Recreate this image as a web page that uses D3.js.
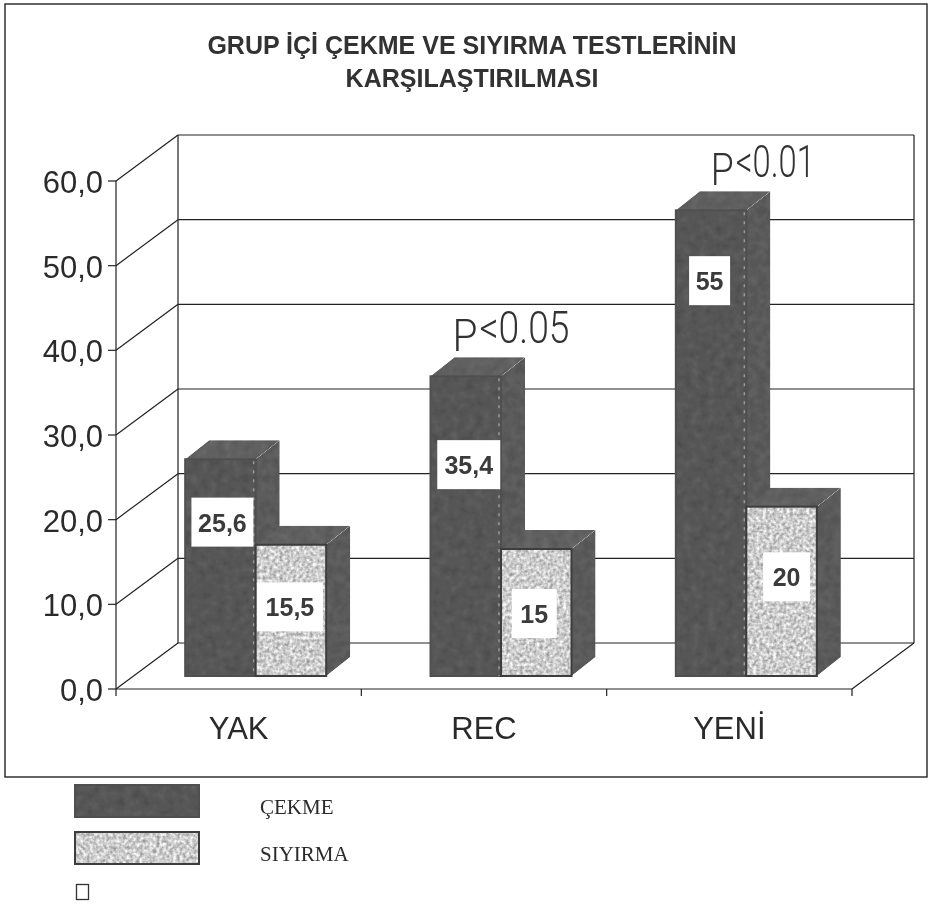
<!DOCTYPE html>
<html>
<head>
<meta charset="utf-8">
<script src="https://cdn.jsdelivr.net/npm/d3@7"></script>
<style>
  body { margin: 0; background: #fff; }
  text { font-family: "Liberation Sans", Arial, sans-serif; fill: #2a2a2a; }
  .grid-line { stroke: #222; stroke-width: 1.2; fill: none; }
  .value-label { font-weight: bold; font-size: 25px; text-anchor: middle; dominant-baseline: central; fill: #3a3a3a; }
  .tick-label { font-size: 31px; }
  .legend-label { font-family: "Liberation Serif", "Times New Roman", serif; font-size: 21px; }
  .p-label { font-family: Roboto, "Liberation Sans", sans-serif; font-weight: 300; font-size: 44px; fill: #333; }
</style>
</head>
<body>
<div id="chart-area"></div>
<script>
// data
const titleLines = ["GRUP İÇİ ÇEKME VE SIYIRMA TESTLERİNİN", "KARŞILAŞTIRILMASI"]
const categories = ["YAK", "REC", "YENİ"]
const seriesNames = ["ÇEKME", "SIYIRMA"]
const cekmeValues = [25.6, 35.4, 55]
const siyirmaValues = [15.5, 15, 20]
const valueLabels = [["25,6", "35,4", "55"], ["15,5", "15", "20"]]
const yTicks = [0, 10, 20, 30, 40, 50, 60]
const pLabels = ["", "<0.05", "<0.01"]

function drawChart() {
  const dimensions = {
    width: 928, height: 906,
    left: 116, right: 852, bottom: 689, top: 181,
    depthX: 62, depthY: 46,
    barShiftX: 17, barShiftY: 13,
    barDepthX: 24, barDepthY: 19,
  }

  const wrapper = d3.select("#chart-area").append("svg")
    .attr("width", dimensions.width)
    .attr("height", dimensions.height)
    .style("display", "block")

  // scan-like grain
  const defs = wrapper.append("defs")
  const grain = (id, freq, amp) => {
    const f = defs.append("filter").attr("id", id)
      .attr("color-interpolation-filters", "sRGB")
      .attr("x", 0).attr("y", 0).attr("width", 1).attr("height", 1)
    f.append("feTurbulence").attr("type", "fractalNoise").attr("baseFrequency", freq)
      .attr("numOctaves", 2).attr("seed", 4).attr("result", "n")
    f.append("feColorMatrix").attr("in", "n").attr("type", "matrix")
      .attr("values", "0 0 0 1 0  0 0 0 1 0  0 0 0 1 0  0 0 0 0 1").attr("result", "g")
    f.append("feComposite").attr("in", "SourceGraphic").attr("in2", "g")
      .attr("operator", "arithmetic")
      .attr("k1", 0).attr("k2", 1).attr("k3", amp).attr("k4", -amp / 2)
      .attr("result", "c")
    f.append("feComposite").attr("in", "c").attr("in2", "SourceAlpha").attr("operator", "in")
  }
  grain("grain-dark", 0.12, 0.1)
  grain("grain-light", 0.3, 0.65)
  const soft = defs.append("filter").attr("id", "soft")
  soft.append("feGaussianBlur").attr("stdDeviation", 0.55)

  const chart = wrapper.append("g").attr("filter", "url(#soft)")

  // scales
  const y = d3.scaleLinear().domain([0, 60]).range([dimensions.bottom, dimensions.top])
  const x = d3.scaleBand().domain(categories)
    .range([dimensions.left, dimensions.right])
  const xSeries = d3.scalePoint().domain([0, 1, 2]).range([0, 141])

  // frame
  chart.append("rect")
    .attr("x", 5).attr("y", 4).attr("width", 922).attr("height", 773)
    .attr("fill", "none").attr("stroke", "#222").attr("stroke-width", 1.4)

  // title
  chart.selectAll(".title").data(titleLines).join("text")
    .attr("class", "title")
    .attr("x", 472)
    .attr("y", (d, i) => 54 + i * 33)
    .attr("text-anchor", "middle")
    .attr("font-size", 25)
    .attr("font-weight", "bold")
    .style("fill", "#333")
    .text(d => d)

  // walls and gridlines
  const dx = dimensions.depthX, dy = dimensions.depthY
  const grid = chart.append("g")
  yTicks.forEach(t => {
    grid.append("line").attr("class", "grid-line")
      .attr("x1", dimensions.left).attr("y1", y(t))
      .attr("x2", dimensions.left + dx).attr("y2", y(t) - dy)
    grid.append("line").attr("class", "grid-line")
      .attr("x1", dimensions.left + dx).attr("y1", y(t) - dy)
      .attr("x2", dimensions.right + dx).attr("y2", y(t) - dy)
    grid.append("line").attr("class", "grid-line")
      .attr("x1", dimensions.left - 8).attr("y1", y(t))
      .attr("x2", dimensions.left).attr("y2", y(t))
    grid.append("text").attr("class", "tick-label")
      .attr("x", dimensions.left - 13)
      .attr("y", y(t) + 12)
      .attr("text-anchor", "end")
      .text(d3.format(".1f")(t).replace(".", ","))
  })
  const verticals = [
    [dimensions.left, y(60), dimensions.left, y(0)],
    [dimensions.left + dx, y(60) - dy, dimensions.left + dx, y(0) - dy],
    [dimensions.right + dx, y(60) - dy, dimensions.right + dx, y(0) - dy],
    [dimensions.right, y(0), dimensions.right + dx, y(0) - dy],
    [dimensions.left, y(0), dimensions.right, y(0)],
  ]
  verticals.forEach(v => {
    grid.append("line").attr("class", "grid-line")
      .attr("x1", v[0]).attr("y1", v[1]).attr("x2", v[2]).attr("y2", v[3])
  })
  const xEdges = [...categories.map(c => x(c)), dimensions.right]
  xEdges.forEach(e => {
    grid.append("line").attr("class", "grid-line")
      .attr("x1", e).attr("y1", y(0)).attr("x2", e).attr("y2", y(0) + 7)
  })

  // category labels
  chart.selectAll(".cat").data(categories).join("text")
    .attr("class", "tick-label cat")
    .attr("x", d => x(d) + x.bandwidth() / 2)
    .attr("y", 739)
    .attr("text-anchor", "middle")
    .text(d => d)

  // bars
  const base = y(0) - dimensions.barShiftY
  const unit = y(0) - y(1)
  const barTop = v => base - v * unit
  const seriesValues = [cekmeValues, siyirmaValues]
  const seriesStyle = [
    { front: "#565656", filter: "url(#grain-dark)", stroke: "#505050" },
    { front: "#cdcdcd", filter: "url(#grain-light)", stroke: "#3c3c3c" },
  ]
  const bdx = dimensions.barDepthX, bdy = dimensions.barDepthY
  const poly = pts => pts.map(p => p.join(",")).join(" ")

  // label box offsets from bar centre: dx, dy, width
  const labelBoxes = [
    [[2, -45, 62], [3, -61, 63], [-1.5, -162, 41]],
    [[-1, -3, 66], [-2, 1.5, 45], [5, -14, 47]],
  ]
  // where the P labels start, right of the bar's left edge, and drawn widths of the two parts
  const pLayout = [null, [22, 27, 90], [35, 25, 79]]

  const bars = chart.append("g")
  categories.forEach((cat, i) => {
    const x0 = x(cat) + x.bandwidth() / 2 + dimensions.barShiftX - xSeries(1)
    seriesNames.forEach((name, s) => {
      const v = seriesValues[s][i]
      const left = x0 + xSeries(s)
      const right = x0 + xSeries(s + 1)
      const top = barTop(v)
      const g = bars.append("g")

      // right face
      g.append("polygon")
        .attr("points", poly([[right, top], [right + bdx, top - bdy], [right + bdx, base - bdy], [right, base]]))
        .attr("fill", "#5a5a5a")
        .attr("filter", "url(#grain-dark)")
      // top face
      g.append("polygon")
        .attr("points", poly([[left, top], [left + bdx, top - bdy], [right + bdx, top - bdy], [right, top]]))
        .attr("fill", "#606060")
        .attr("filter", "url(#grain-dark)")
      // front face
      g.append("rect")
        .attr("x", left).attr("y", top)
        .attr("width", right - left).attr("height", base - top)
        .attr("fill", seriesStyle[s].front)
        .attr("filter", seriesStyle[s].filter)
      g.append("rect")
        .attr("x", left).attr("y", top)
        .attr("width", right - left).attr("height", base - top)
        .attr("fill", "none")
        .attr("stroke", seriesStyle[s].stroke)
        .attr("stroke-width", 2)
      // faint dotted seam on the dark bars
      if (s === 0) {
        g.append("line")
          .attr("x1", right - 2).attr("y1", top + 2)
          .attr("x2", right - 2).attr("y2", base)
          .attr("stroke", "#9a9a9a")
          .attr("stroke-width", 1.5)
          .attr("stroke-dasharray", "3 6")
      }
    })
  })

  // value labels
  categories.forEach((cat, i) => {
    const x0 = x(cat) + x.bandwidth() / 2 + dimensions.barShiftX - xSeries(1)
    seriesNames.forEach((name, s) => {
      const v = seriesValues[s][i]
      const box = labelBoxes[s][i]
      const cx = x0 + (xSeries(s) + xSeries(s + 1)) / 2 + box[0]
      const cy = (barTop(v) + base) / 2 + box[1]
      chart.append("rect")
        .attr("x", cx - box[2] / 2).attr("y", cy - 25)
        .attr("width", box[2]).attr("height", 49)
        .attr("fill", "#fff")
      chart.append("text").attr("class", "value-label")
        .attr("x", cx).attr("y", cy)
        .text(valueLabels[s][i])
    })
  })

  // p annotations, the P sits lower than the rest
  categories.forEach((cat, i) => {
    if (!pLabels[i]) return
    const left = x(cat) + x.bandwidth() / 2 + dimensions.barShiftX - xSeries(1)
    const ty = barTop(cekmeValues[i]) - bdy - 14
    const [startX, pWidth, restWidth] = pLayout[i]
    chart.append("text").attr("class", "p-label")
      .attr("x", left + startX)
      .attr("y", ty + 8)
      .attr("textLength", pWidth - 2)
      .attr("lengthAdjust", "spacingAndGlyphs")
      .text("P")
    chart.append("text").attr("class", "p-label")
      .attr("x", left + startX + pWidth)
      .attr("y", ty)
      .attr("textLength", restWidth)
      .attr("lengthAdjust", "spacingAndGlyphs")
      .text(pLabels[i])
  })

  // legend
  const legend = chart.append("g")
  seriesNames.forEach((name, s) => {
    const ly = 785 + s * 47
    legend.append("rect")
      .attr("x", 75).attr("y", ly).attr("width", 124).attr("height", 32)
      .attr("fill", seriesStyle[s].front)
      .attr("filter", seriesStyle[s].filter)
    legend.append("rect")
      .attr("x", 75).attr("y", ly).attr("width", 124).attr("height", 32)
      .attr("fill", "none").attr("stroke", seriesStyle[s].stroke).attr("stroke-width", 2)
    legend.append("text").attr("class", "legend-label")
      .attr("x", 260).attr("y", ly + 29)
      .text(name)
  })
  legend.append("rect")
    .attr("x", 76.5).attr("y", 884.5).attr("width", 12).attr("height", 15)
    .attr("fill", "#fff").attr("stroke", "#333").attr("stroke-width", 1.3)
}
drawChart()
</script>
</body>
</html>
